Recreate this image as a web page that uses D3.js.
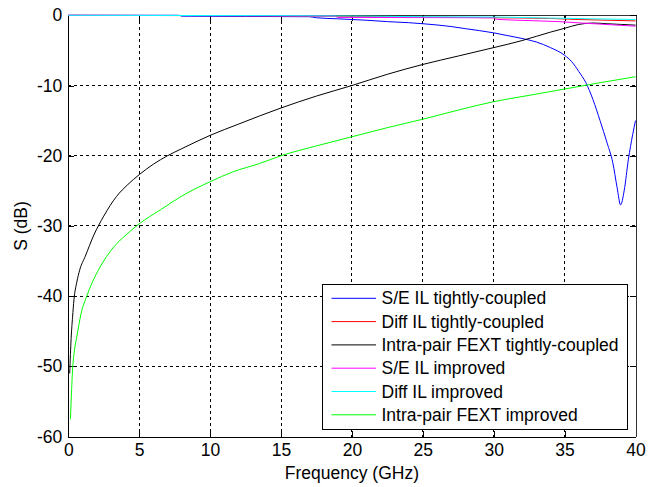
<!DOCTYPE html>
<html>
<head>
<meta charset="utf-8">
<script src="https://cdn.jsdelivr.net/npm/d3@7"></script>
<style>
  html, body { margin: 0; padding: 0; background: #fff; }
  svg { display: block; font-family: "Liberation Sans", Arial, sans-serif; }
</style>
</head>
<body>
<svg id="chart" width="650" height="487"></svg>
<script>
// Frequency ticks (GHz) and S-parameter ticks (dB)
const xTicks = [0, 5, 10, 15, 20, 25, 30, 35, 40];
const yTicks = [0, -10, -20, -30, -40, -50, -60];

// S/E IL tightly-coupled: [GHz, dB]
const seIlTight = [
  [0, 0], [7.8, 0], [8, -0.12], [17, -0.2], [17.5, -0.35], [19, -0.5], [21, -0.7],
  [22.5, -0.9], [24, -1.05], [25, -1.2], [27, -1.6], [28, -1.9], [30, -2.5],
  [31, -2.9], [32, -3.3], [33, -3.8], [34, -4.6], [35, -5.7], [35.5, -6.6],
  [36, -8.0], [36.5, -9.6], [37, -12.0], [37.5, -15.0], [38, -18.2], [38.4, -21],
  [38.7, -24.5], [38.95, -27], [39.2, -25], [39.5, -20.5], [39.8, -17], [40, -15]
];

// Diff IL tightly-coupled
const diffIlTight = [
  [0, 0], [10, -0.05], [20, -0.15], [25, -0.25], [30, -0.35], [34, -0.45],
  [36, -0.6], [38, -0.7], [40, -0.8]
];

// Intra-pair FEXT tightly-coupled
const fextTight = [
  [0.1, -51], [0.2, -46], [0.3, -43], [0.4, -40.5], [0.6, -38], [0.8, -36.3],
  [1.2, -34.3], [1.8, -31.3], [2.5, -28.6], [3.4, -25.8], [4.2, -24.1], [5, -22.7],
  [6, -21.2], [7, -20], [8, -19], [10, -17.1], [12, -15.5], [15, -13.2],
  [17.5, -11.5], [20, -10], [22.5, -8.4], [25, -7.0], [27.5, -5.8], [30, -4.6],
  [32, -3.6], [33, -3.0], [34, -2.4], [35, -1.85], [36, -1.3], [37, -1.1],
  [38, -1.2], [39, -1.3], [40, -1.4]
];

// S/E IL improved
const seIlImproved = [
  [0, 0], [18.8, -0.1], [19, -0.3], [30, -0.35], [30.2, -0.57], [32.8, -0.77],
  [34.6, -0.9], [36.2, -1.1], [37.4, -1.24], [40, -1.55]
];

// Diff IL improved
const diffIlImproved = [
  [0, 0], [15, -0.05], [20, -0.1], [25, -0.2], [30, -0.25], [34, -0.4],
  [37, -0.5], [40, -0.6]
];

// Intra-pair FEXT improved
const fextImproved = [
  [0.15, -57.5], [0.2, -55], [0.3, -50.5], [0.45, -47.5], [0.6, -45.8], [0.9, -42.5],
  [1.3, -40], [1.7, -38], [2.2, -36], [3.2, -33], [4, -31.4], [5, -29.7],
  [6.5, -27.7], [8.3, -25.4], [10, -23.7], [11.6, -22.3], [13.5, -21.1], [15, -20],
  [17.5, -18.6], [20, -17.3], [22.5, -16], [25, -14.8], [27.5, -13.5], [30, -12.3],
  [32.5, -11.4], [35, -10.5], [37.5, -9.6], [40, -8.75]
];

const seriesNames = [
  "S/E IL tightly-coupled",
  "Diff IL tightly-coupled",
  "Intra-pair FEXT tightly-coupled",
  "S/E IL improved",
  "Diff IL improved",
  "Intra-pair FEXT improved"
];
const seriesColors = ["#0000ff", "#ff0000", "#000000", "#ff00ff", "#00ffff", "#00ff00"];
const seriesData = [seIlTight, diffIlTight, fextTight, seIlImproved, diffIlImproved, fextImproved];

const svg = d3.select("#chart");
const plotLeft = 68.3, plotRight = 635.5, plotTop = 15.3, plotBottom = 436.6;
const fontSize = 17.5;

const x = d3.scaleLinear().domain([0, 40]).range([plotLeft, plotRight]);
const y = d3.scaleLinear().domain([-60, 0]).range([plotBottom, plotTop]);
const plainNum = d => String(d); // hyphen-minus labels

// Dashed grid
const grid = svg.append("g").attr("stroke", "#000").attr("stroke-width", 1)
  .attr("stroke-dasharray", "3,3").attr("shape-rendering", "crispEdges");
xTicks.slice(1, -1).forEach(t => {
  grid.append("line").attr("x1", x(t)).attr("x2", x(t)).attr("y1", plotTop).attr("y2", plotBottom);
});
yTicks.slice(1, -1).forEach(t => {
  grid.append("line").attr("x1", plotLeft).attr("x2", plotRight).attr("y1", y(t)).attr("y2", y(t));
});

// Axes with inward ticks on all four sides
const tickLen = 6;
const axB = svg.append("g").attr("transform", `translate(0,${plotBottom})`)
  .call(d3.axisBottom(x).tickValues(xTicks).tickFormat(plainNum)
    .tickSizeInner(-tickLen).tickSizeOuter(0).tickPadding(7));
const axT = svg.append("g").attr("transform", `translate(0,${plotTop})`)
  .call(d3.axisTop(x).tickValues(xTicks).tickSizeInner(-tickLen).tickSizeOuter(0).tickFormat(""));
const axL = svg.append("g").attr("transform", `translate(${plotLeft},0)`)
  .call(d3.axisLeft(y).tickValues(yTicks).tickFormat(plainNum)
    .tickSizeInner(-tickLen).tickSizeOuter(0).tickPadding(6));
const axR = svg.append("g").attr("transform", `translate(${plotRight},0)`)
  .call(d3.axisRight(y).tickValues(yTicks).tickSizeInner(-tickLen).tickSizeOuter(0).tickFormat(""));

[axB, axT, axL, axR].forEach(a => {
  a.select(".domain").attr("stroke", "#000").attr("shape-rendering", "crispEdges");
  a.selectAll(".tick line").attr("stroke", "#000").attr("shape-rendering", "crispEdges");
  a.selectAll("text").attr("fill", "#000").attr("font-size", fontSize)
    .attr("font-family", "'Liberation Sans', Arial, sans-serif");
});
axT.select(".domain").attr("stroke", "#333");
axR.select(".domain").attr("stroke", "#333");

// Axis titles
svg.append("text").attr("x", (plotLeft + plotRight) / 2).attr("y", 478.5)
  .attr("text-anchor", "middle").attr("font-size", fontSize).text("Frequency (GHz)");
svg.append("text").attr("transform", `translate(27,${(plotTop + plotBottom) / 2}) rotate(-90)`)
  .attr("text-anchor", "middle").attr("font-size", fontSize).text("S (dB)");

// Curves
const line = d3.line().curve(d3.curveMonotoneX).x(d => x(d[0])).y(d => y(d[1]));
const curves = svg.append("g");
seriesData.forEach((data, i) => {
  curves.append("path").datum(data).attr("d", line)
    .attr("fill", "none").attr("stroke", seriesColors[i]).attr("stroke-width", 1);
});

// Legend
const lg = svg.append("g");
const lgX = 322.5, lgY = 284, lgW = 305, lgH = 145, rowH = 23.3;
lg.append("rect").attr("x", lgX).attr("y", lgY).attr("width", lgW).attr("height", lgH)
  .attr("fill", "#fff").attr("stroke", "#000").attr("stroke-width", 1)
  .attr("shape-rendering", "crispEdges");
seriesNames.forEach((name, i) => {
  const cy = 298.3 + i * rowH;
  lg.append("line").attr("x1", 331.5).attr("x2", 376).attr("y1", cy).attr("y2", cy)
    .attr("stroke", seriesColors[i]).attr("stroke-width", 1);
  lg.append("text").attr("x", 381.5).attr("y", cy + 6).attr("font-size", fontSize)
    .attr("fill", "#000").text(name);
});
</script>
</body>
</html>
